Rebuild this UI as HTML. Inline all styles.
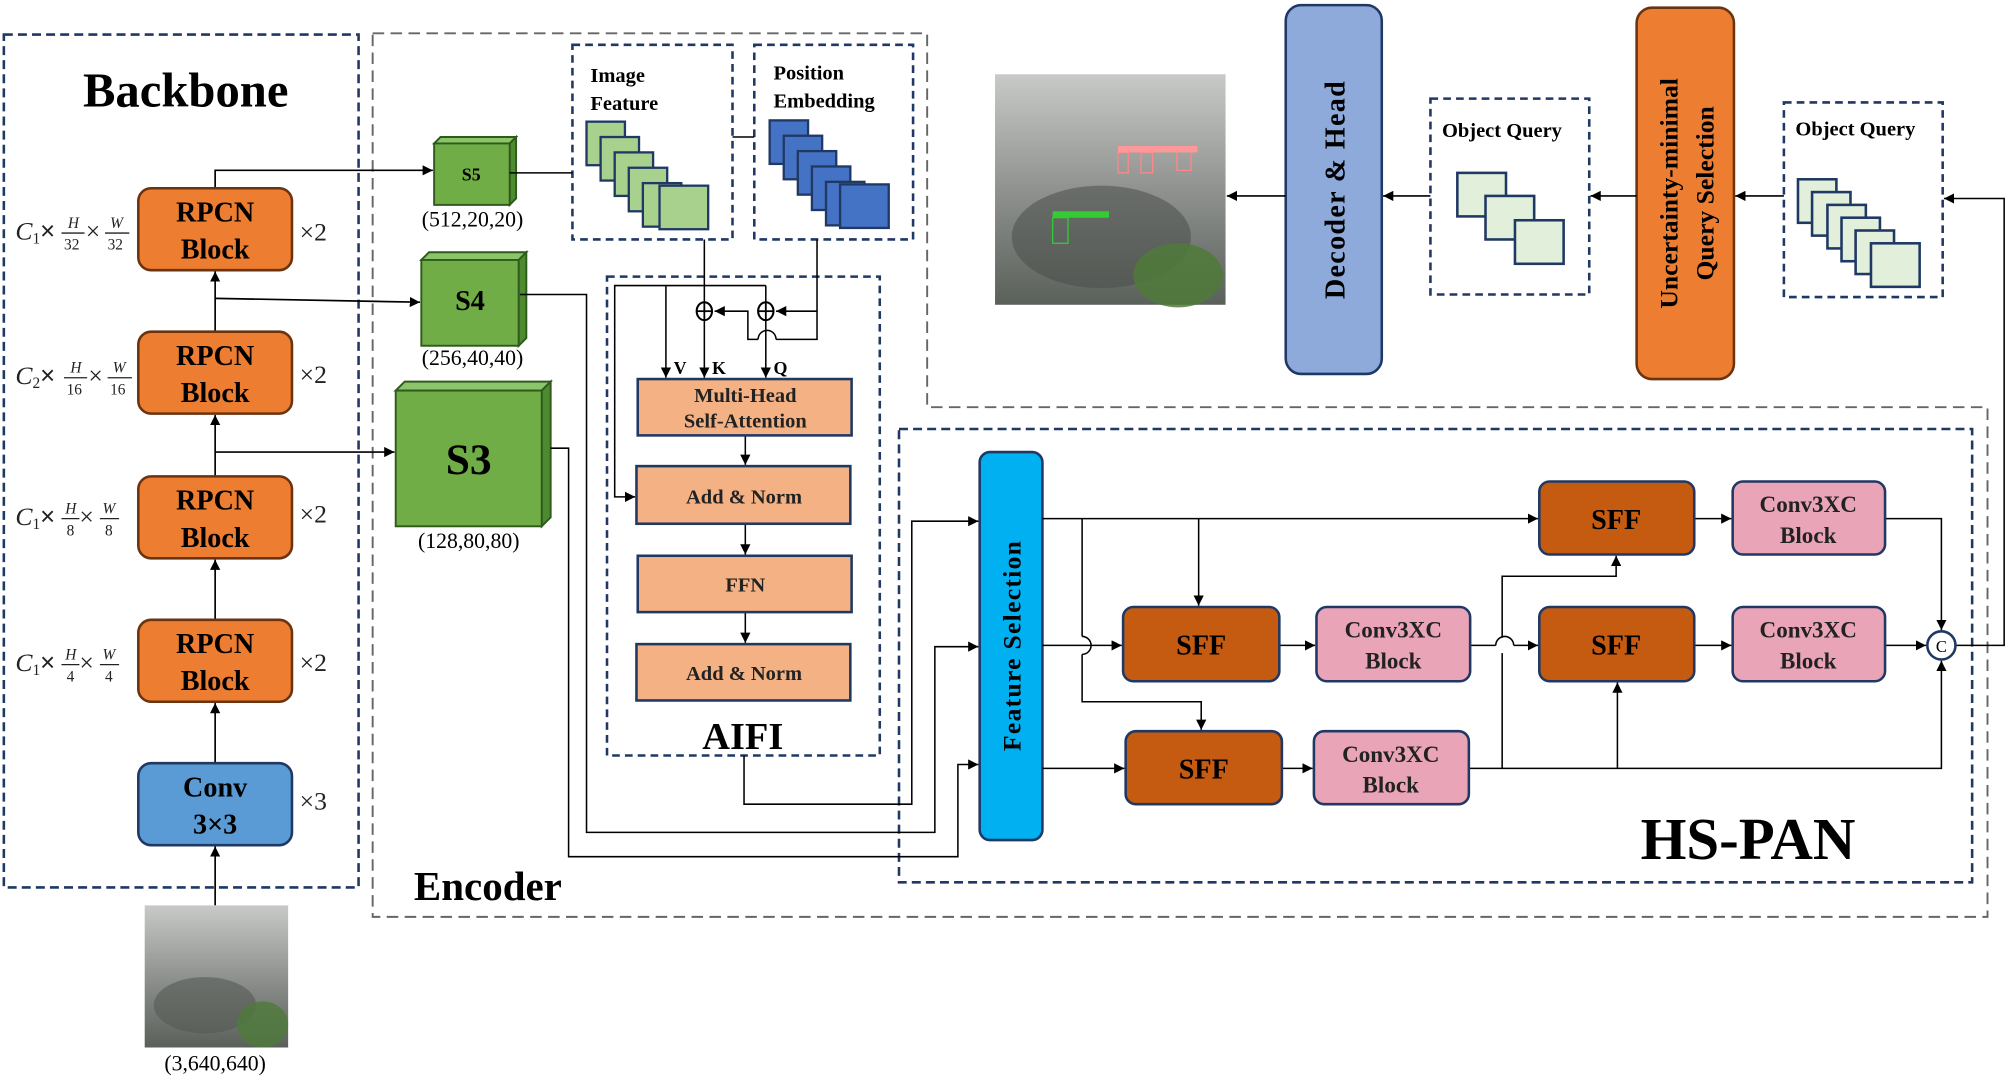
<!DOCTYPE html>
<html><head><meta charset="utf-8"><style>
html,body{margin:0;padding:0;background:#fff;}
svg{display:block;}
text{font-family:"Liberation Serif",serif;}
</style></head><body>
<svg width="2008" height="1079" viewBox="0 0 1568 842.6" preserveAspectRatio="none" xmlns="http://www.w3.org/2000/svg">
<defs>
<marker id="a" viewBox="0 0 10 10" refX="10" refY="5" markerWidth="8" markerHeight="8" markerUnits="userSpaceOnUse" orient="auto"><path d="M0,0L10,5L0,10z" fill="#000"/></marker>
<linearGradient id="ph" x1="0" y1="0" x2="0" y2="1"><stop offset="0" stop-color="#c8cac8"/><stop offset="0.5" stop-color="#8f928f"/><stop offset="1" stop-color="#5a605a"/></linearGradient>
</defs>
<g fill="none" stroke-width="1.2">
<rect x="3" y="27" width="277" height="666" stroke="#1f3864" stroke-width="2" stroke-dasharray="7,4"/>
<path d="M291,26H724V318H1552V716H291Z" stroke="#666" stroke-width="1.5" stroke-dasharray="9,5"/>
<rect x="447" y="35" width="125" height="152" stroke="#1f3864" stroke-width="2" stroke-dasharray="6,4"/>
<rect x="589" y="35" width="124" height="152" stroke="#1f3864" stroke-width="2" stroke-dasharray="6,4"/>
<rect x="474" y="216" width="213" height="374" stroke="#1f3864" stroke-width="2" stroke-dasharray="6,4"/>
<rect x="702" y="335" width="838" height="354" stroke="#1f3864" stroke-width="2" stroke-dasharray="7,4"/>
<rect x="1117" y="77" width="124" height="153" stroke="#1f3864" stroke-width="2" stroke-dasharray="6,4"/>
<rect x="1393" y="80" width="124" height="152" stroke="#1f3864" stroke-width="2" stroke-dasharray="6,4"/>
</g>
<text x="145" y="83" font-size="38" font-weight="bold" text-anchor="middle">Backbone</text>
<g stroke="#000" stroke-width="1.3" fill="none">
<line x1="168" y1="707" x2="168" y2="661" marker-end="url(#a)"/>
<line x1="168" y1="596" x2="168" y2="549" marker-end="url(#a)"/>
<line x1="168" y1="484" x2="168" y2="437" marker-end="url(#a)"/>
<line x1="168" y1="372" x2="168" y2="324" marker-end="url(#a)"/>
<line x1="168" y1="259" x2="168" y2="212" marker-end="url(#a)"/>
<polyline points="168,147 168,133 338,133" marker-end="url(#a)"/>
<polyline points="168,233 328,236" marker-end="url(#a)"/>
<polyline points="168,353 308,353" marker-end="url(#a)"/>
</g>
<g stroke="#6b3410" stroke-width="2" fill="#ed7d31">
<rect x="108" y="147" width="120" height="64" rx="10"/>
<rect x="108" y="259" width="120" height="64" rx="10"/>
<rect x="108" y="372" width="120" height="64" rx="10"/>
<rect x="108" y="484" width="120" height="64" rx="10"/>
</g>
<rect x="108" y="596" width="120" height="64" rx="10" fill="#5b9bd5" stroke="#1f3864" stroke-width="2"/>
<g font-size="22" font-weight="bold" text-anchor="middle">
<text x="168" y="173">RPCN</text><text x="168" y="202">Block</text>
<text x="168" y="285">RPCN</text><text x="168" y="314">Block</text>
<text x="168" y="398">RPCN</text><text x="168" y="427">Block</text>
<text x="168" y="510">RPCN</text><text x="168" y="539">Block</text>
<text x="168" y="622">Conv</text><text x="168" y="651">3×3</text>
</g>
<g font-size="20" fill="#222">
<text x="234" y="188" font-family="Liberation Sans">×2</text>
<text x="234" y="299" font-family="Liberation Sans">×2</text>
<text x="234" y="408" font-family="Liberation Sans">×2</text>
<text x="234" y="524" font-family="Liberation Sans">×2</text>
<text x="234" y="632" font-family="Liberation Sans">×3</text>
</g>
<g font-size="20" font-style="italic" fill="#222">
<text x="12" y="187">C<tspan font-size="12" dy="3" font-style="normal">1</tspan><tspan font-style="normal" dy="-3" font-family="Liberation Sans">×</tspan></text>
<text x="53" y="178" font-size="12">H</text><line x1="48" y1="182" x2="66" y2="182" stroke="#222"/><text x="50" y="195" font-size="12" font-style="normal">32</text>
<text x="67" y="187" font-style="normal" font-family="Liberation Sans">×</text>
<text x="86" y="178" font-size="12">W</text><line x1="82" y1="182" x2="101" y2="182" stroke="#222"/><text x="84" y="195" font-size="12" font-style="normal">32</text>

<text x="12" y="300">C<tspan font-size="12" dy="3" font-style="normal">2</tspan><tspan font-style="normal" dy="-3" font-family="Liberation Sans">×</tspan></text>
<text x="55" y="291" font-size="12">H</text><line x1="50" y1="295" x2="68" y2="295" stroke="#222"/><text x="52" y="308" font-size="12" font-style="normal">16</text>
<text x="69" y="300" font-style="normal" font-family="Liberation Sans">×</text>
<text x="88" y="291" font-size="12">W</text><line x1="84" y1="295" x2="103" y2="295" stroke="#222"/><text x="86" y="308" font-size="12" font-style="normal">16</text>

<text x="12" y="410">C<tspan font-size="12" dy="3" font-style="normal">1</tspan><tspan font-style="normal" dy="-3" font-family="Liberation Sans">×</tspan></text>
<text x="51" y="401" font-size="12">H</text><line x1="48" y1="405" x2="62" y2="405" stroke="#222"/><text x="52" y="418" font-size="12" font-style="normal">8</text>
<text x="62" y="410" font-style="normal" font-family="Liberation Sans">×</text>
<text x="80" y="401" font-size="12">W</text><line x1="78" y1="405" x2="93" y2="405" stroke="#222"/><text x="82" y="418" font-size="12" font-style="normal">8</text>

<text x="12" y="524">C<tspan font-size="12" dy="3" font-style="normal">1</tspan><tspan font-style="normal" dy="-3" font-family="Liberation Sans">×</tspan></text>
<text x="51" y="515" font-size="12">H</text><line x1="48" y1="519" x2="62" y2="519" stroke="#222"/><text x="52" y="532" font-size="12" font-style="normal">4</text>
<text x="62" y="524" font-style="normal" font-family="Liberation Sans">×</text>
<text x="80" y="515" font-size="12">W</text><line x1="78" y1="519" x2="93" y2="519" stroke="#222"/><text x="82" y="532" font-size="12" font-style="normal">4</text>
</g>
<rect x="113" y="707" width="112" height="111" fill="url(#ph)"/>
<ellipse cx="160" cy="785" rx="40" ry="22" fill="#555a55" opacity="0.6"/>
<ellipse cx="205" cy="800" rx="20" ry="18" fill="#4f7a3a" opacity="0.8"/>
<text x="168" y="836" font-size="17" text-anchor="middle">(3,640,640)</text>
<g stroke="#2e5a1c" stroke-width="1.5">
<path d="M339,112l5,-5h59l-5,5z" fill="#8bc56a"/><path d="M398,112l5,-5v48l-5,5z" fill="#4e8a30"/><rect x="339" y="112" width="59" height="48" fill="#70ad47"/>
<path d="M329,203l6,-6h76l-6,6z" fill="#8bc56a"/><path d="M405,203l6,-6v67l-6,6z" fill="#4e8a30"/><rect x="329" y="203" width="76" height="67" fill="#70ad47"/>
<path d="M309,305l7,-7h114l-7,7z" fill="#8bc56a"/><path d="M423,305l7,-7v106l-7,7z" fill="#4e8a30"/><rect x="309" y="305" width="114" height="106" fill="#70ad47"/>
</g>
<g font-weight="bold" text-anchor="middle">
<text x="368" y="141" font-size="14">S5</text>
<text x="367" y="242" font-size="22">S4</text>
<text x="366" y="370" font-size="34">S3</text>
</g>
<g font-size="17" text-anchor="middle">
<text x="369" y="177">(512,20,20)</text>
<text x="369" y="285">(256,40,40)</text>
<text x="366" y="428">(128,80,80)</text>
</g>
<g stroke="#000" stroke-width="1.2" fill="none">
<line x1="398" y1="135" x2="447" y2="135"/>
<polyline points="572,107 589,107"/>
<polyline points="406,230 458,230 458,650 730,650 730,505 764,505" marker-end="url(#a)"/>
<polyline points="430,350 444,350 444,669 748,669 748,597 764,597" marker-end="url(#a)"/>
<polyline points="581,590 581,628 712,628 712,407 764,407" marker-end="url(#a)"/>
</g>
<g stroke="#1f3864" stroke-width="1.8">
<rect x="458" y="95" width="30" height="34" fill="#a9d18e"/>
<rect x="469" y="107" width="30" height="34" fill="#a9d18e"/>
<rect x="480" y="119" width="30" height="34" fill="#a9d18e"/>
<rect x="491" y="131" width="30" height="34" fill="#a9d18e"/>
<rect x="502" y="143" width="30" height="34" fill="#a9d18e"/>
<rect x="515" y="145" width="38" height="34" fill="#a9d18e"/>
<rect x="601" y="94" width="30" height="34" fill="#4472c4"/>
<rect x="612" y="106" width="30" height="34" fill="#4472c4"/>
<rect x="623" y="118" width="30" height="34" fill="#4472c4"/>
<rect x="634" y="130" width="30" height="34" fill="#4472c4"/>
<rect x="645" y="142" width="30" height="34" fill="#4472c4"/>
<rect x="656" y="144" width="38" height="34" fill="#4472c4"/>
</g>
<g font-size="16" font-weight="bold">
<text x="461" y="64">Image</text><text x="461" y="86">Feature</text>
<text x="604" y="62">Position</text><text x="604" y="84">Embedding</text>
</g>
<g stroke="#000" stroke-width="1.2" fill="none">
<line x1="550" y1="187" x2="550" y2="295" marker-end="url(#a)"/>
<polyline points="638,187 638,265 606,265"/>
<path d="M606,265a7,7 0 0 0 -14,0"/>
<polyline points="592,265 584,265 584,243 558,243" marker-end="url(#a)"/>
<polyline points="638,243 606,243" marker-end="url(#a)"/>
<polyline points="598,223 598,295" marker-end="url(#a)"/>
<polyline points="598,223 480,223 480,388 496,388" marker-end="url(#a)"/>
<line x1="520" y1="223" x2="520" y2="295" marker-end="url(#a)"/>
<line x1="582" y1="340" x2="582" y2="363" marker-end="url(#a)"/>
<line x1="582" y1="409" x2="582" y2="433" marker-end="url(#a)"/>
<line x1="582" y1="478" x2="582" y2="502" marker-end="url(#a)"/>
</g>
<g stroke="#000" stroke-width="1.6" fill="#fff">
<ellipse cx="550" cy="243" rx="6" ry="7"/><ellipse cx="598" cy="243" rx="6" ry="7"/>
</g>
<g stroke="#000" stroke-width="1.4"><line x1="544" y1="243" x2="556" y2="243"/><line x1="592" y1="243" x2="604" y2="243"/><line x1="550" y1="236" x2="550" y2="250"/><line x1="598" y1="236" x2="598" y2="250"/></g>
<g font-size="14" font-weight="bold"><text x="526" y="292">V</text><text x="556" y="292">K</text><text x="604" y="292">Q</text></g>
<g fill="#f4b183" stroke="#1f3864" stroke-width="2">
<rect x="498" y="296" width="167" height="44"/>
<rect x="497" y="364" width="167" height="45"/>
<rect x="498" y="434" width="167" height="44"/>
<rect x="497" y="503" width="167" height="44"/>
</g>
<g font-size="16" font-weight="bold" text-anchor="middle" fill="#222">
<text x="582" y="314">Multi-Head</text><text x="582" y="334">Self-Attention</text>
<text x="581" y="393">Add &amp; Norm</text>
<text x="582" y="462">FFN</text>
<text x="581" y="531">Add &amp; Norm</text>
</g>
<text x="580" y="585" font-size="30" font-weight="bold" text-anchor="middle">AIFI</text>
<text x="381" y="703" font-size="32" font-weight="bold" text-anchor="middle">Encoder</text>
<rect x="765" y="353" width="49" height="303" rx="8" fill="#00b0f0" stroke="#1f3864" stroke-width="2"/>
<text transform="translate(797,504) rotate(-90)" font-size="20" font-weight="bold" text-anchor="middle" letter-spacing="1">Feature  Selection</text>
<g stroke="#000" stroke-width="1.2" fill="none">
<line x1="814" y1="405" x2="1201" y2="405" marker-end="url(#a)"/>
<line x1="936" y1="405" x2="936" y2="473" marker-end="url(#a)"/>
<polyline points="845,405 845,497"/><path d="M845,497a7,7 0 0 1 0,14"/><polyline points="845,511 845,548 938,548 938,570" marker-end="url(#a)"/>
<line x1="814" y1="504" x2="876" y2="504" marker-end="url(#a)"/>
<line x1="814" y1="600" x2="878" y2="600" marker-end="url(#a)"/>
<line x1="999" y1="504" x2="1027" y2="504" marker-end="url(#a)"/>
<line x1="1001" y1="600" x2="1025" y2="600" marker-end="url(#a)"/>
<line x1="1148" y1="504" x2="1168" y2="504"/><path d="M1168,504a7,7 0 0 1 14,0"/><line x1="1182" y1="504" x2="1201" y2="504" marker-end="url(#a)"/>
<polyline points="1147,600 1516,600 1516,516" marker-end="url(#a)"/>
<polyline points="1173,600 1173,510"/><polyline points="1173,498 1173,450 1262,450 1262,434" marker-end="url(#a)"/>
<line x1="1263" y1="600" x2="1263" y2="533" marker-end="url(#a)"/>
<line x1="1323" y1="405" x2="1352" y2="405" marker-end="url(#a)"/>
<line x1="1323" y1="504" x2="1352" y2="504" marker-end="url(#a)"/>
<polyline points="1472,405 1516,405 1516,492" marker-end="url(#a)"/>
<line x1="1472" y1="504" x2="1504" y2="504" marker-end="url(#a)"/>
<polyline points="1527,504 1565,504 1565,155 1518,155" marker-end="url(#a)"/>
</g>
<circle cx="1516" cy="504" r="11" fill="#fff" stroke="#1f3864" stroke-width="2"/>
<text x="1516" y="509" font-size="13" text-anchor="middle" font-family="Liberation Sans">C</text>
<g fill="#c55a11" stroke="#1f3864" stroke-width="2">
<rect x="1202" y="376" width="121" height="57" rx="8"/>
<rect x="877" y="474" width="122" height="58" rx="8"/>
<rect x="1202" y="474" width="121" height="58" rx="8"/>
<rect x="879" y="571" width="122" height="57" rx="8"/>
</g>
<g fill="#eaa4b8" stroke="#1f3864" stroke-width="2">
<rect x="1353" y="376" width="119" height="57" rx="8"/>
<rect x="1028" y="474" width="120" height="58" rx="8"/>
<rect x="1353" y="474" width="119" height="58" rx="8"/>
<rect x="1026" y="571" width="121" height="57" rx="8"/>
</g>
<g font-size="22" font-weight="bold" text-anchor="middle">
<text x="1262" y="413">SFF</text><text x="938" y="511">SFF</text><text x="1262" y="511">SFF</text><text x="940" y="608">SFF</text>
</g>
<g font-size="18" font-weight="bold" text-anchor="middle" fill="#222">
<text x="1412" y="400">Conv3XC</text><text x="1412" y="424">Block</text>
<text x="1088" y="498">Conv3XC</text><text x="1088" y="522">Block</text>
<text x="1412" y="498">Conv3XC</text><text x="1412" y="522">Block</text>
<text x="1086" y="595">Conv3XC</text><text x="1086" y="619">Block</text>
</g>
<text x="1365" y="671" font-size="46" font-weight="bold" text-anchor="middle">HS-PAN</text>
<rect x="777" y="58" width="180" height="180" fill="url(#ph)"/>
<ellipse cx="860" cy="185" rx="70" ry="40" fill="#4a4f4a" opacity="0.55"/>
<ellipse cx="920" cy="215" rx="35" ry="25" fill="#4f7a3a" opacity="0.85"/>
<g fill="none" stroke-width="1"><rect x="873" y="119" width="8" height="16" stroke="#f88"/><rect x="891" y="119" width="9" height="16" stroke="#f88"/><rect x="919" y="116" width="11" height="17" stroke="#f88"/><rect x="822" y="170" width="12" height="20" stroke="#3c3"/></g>
<rect x="873" y="114" width="62" height="5" fill="#f99"/><rect x="822" y="165" width="44" height="5" fill="#3c3"/>
<rect x="1004" y="4" width="75" height="288" rx="12" fill="#8eaadb" stroke="#1f3864" stroke-width="2"/>
<text transform="translate(1050,148) rotate(-90)" font-size="22" font-weight="bold" text-anchor="middle" letter-spacing="1">Decoder &amp; Head</text>
<rect x="1278" y="6" width="76" height="290" rx="12" fill="#ed7d31" stroke="#6b3410" stroke-width="2"/>
<text transform="translate(1310,151) rotate(-90)" font-size="20" font-weight="bold" text-anchor="middle">Uncertainty-minimal</text>
<text transform="translate(1338,151) rotate(-90)" font-size="20" font-weight="bold" text-anchor="middle">Query Selection</text>
<g font-size="16" font-weight="bold"><text x="1126" y="107">Object  Query</text><text x="1402" y="106">Object  Query</text></g>
<g fill="#e2efda" stroke="#1f3864" stroke-width="2">
<rect x="1138" y="135" width="38" height="34"/><rect x="1160" y="153" width="38" height="34"/><rect x="1183" y="172" width="38" height="34"/>
<rect x="1404" y="140" width="30" height="34"/><rect x="1415" y="150" width="30" height="34"/><rect x="1427" y="160" width="30" height="34"/><rect x="1438" y="170" width="30" height="34"/><rect x="1449" y="180" width="30" height="34"/><rect x="1461" y="190" width="38" height="34"/>
</g>
<g stroke="#000" stroke-width="1.3" fill="none">
<line x1="1393" y1="153" x2="1355" y2="153" marker-end="url(#a)"/>
<line x1="1278" y1="153" x2="1242" y2="153" marker-end="url(#a)"/>
<line x1="1117" y1="153" x2="1080" y2="153" marker-end="url(#a)"/>
<line x1="1004" y1="153" x2="958" y2="153" marker-end="url(#a)"/>
</g>
</svg>
</body></html>
